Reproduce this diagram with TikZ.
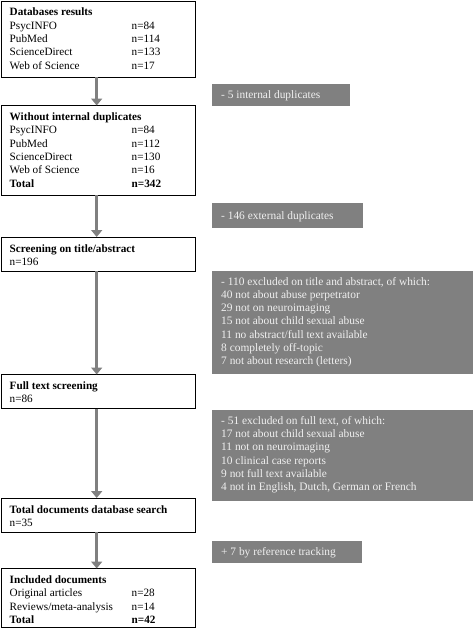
\documentclass[tikz,border=0pt]{standalone}
\usepackage{fontspec}
\setmainfont{Liberation Serif}
\usetikzlibrary{arrows.meta}
\definecolor{boxgray}{RGB}{128,128,128}
\definecolor{arrgray}{RGB}{128,128,128}
\definecolor{lighttext}{RGB}{240,240,240}
\begin{document}
\begin{tikzpicture}[x=1pt,y=-1pt,
  wbox/.style={draw=black, line width=1pt, anchor=north west, inner sep=0pt, outer sep=0pt, minimum width=194pt},
  gbox/.style={fill=boxgray, anchor=north west, inner sep=0pt, outer sep=0pt},
  txt/.style={anchor=base west, inner sep=0pt, font=\fontsize{11.2}{13.33}\selectfont},
  gtxt/.style={txt, text=lighttext, font=\fontsize{11.4}{13.33}\selectfont},
  arr/.style={draw=arrgray, line width=3pt, -{Triangle[width=11pt,length=7pt]}}]
\useasboundingbox (0,0) rectangle (473,629);

% white boxes
\node[wbox, minimum height=76pt]   (b1) at (1,1) {};
\node[wbox, minimum height=89.5pt] (b2) at (1,105.5) {};
\node[wbox, minimum height=34pt]   (b3) at (1,237) {};
\node[wbox, minimum height=34pt]   (b4) at (1,374.5) {};
\node[wbox, minimum height=34pt]   (b5) at (1,498) {};
\node[wbox, minimum height=59pt]   (b6) at (1,568.5) {};

\node[txt] (t1) at (9.5,16) {\begin{tabular}[t]{@{}p{122pt}@{}l@{}}
\multicolumn{2}{@{}l@{}}{\textbf{Databases results}}\\
PsycINFO & n=84\\
PubMed & n=114\\
ScienceDirect & n=133\\
Web of Science & n=17
\end{tabular}};

\node[txt] (t2) at (9.5,120.5) {\begin{tabular}[t]{@{}p{122pt}@{}l@{}}
\multicolumn{2}{@{}l@{}}{\textbf{Without internal duplicates}}\\
PsycINFO & n=84\\
PubMed & n=112\\
ScienceDirect & n=130\\
Web of Science & n=16\\
\textbf{Total} & \textbf{n=342}
\end{tabular}};

\node[txt] (t3) at (9.5,252) {\begin{tabular}[t]{@{}l@{}}
\textbf{Screening on title/abstract}\\
n=196
\end{tabular}};

\node[txt] (t4) at (9.5,389.5) {\begin{tabular}[t]{@{}l@{}}
\textbf{Full text screening}\\
n=86
\end{tabular}};

\node[txt] (t5) at (9.5,513) {\begin{tabular}[t]{@{}l@{}}
\textbf{Total documents database search}\\
n=35
\end{tabular}};

\node[txt] (t6) at (9.5,583.5) {\begin{tabular}[t]{@{}p{122pt}@{}l@{}}
\multicolumn{2}{@{}l@{}}{\textbf{Included documents}}\\
Original articles & n=28\\
Reviews/meta-analysis & n=14\\
\textbf{Total} & \textbf{n=42}
\end{tabular}};

% gray boxes
\node[gbox, minimum width=138pt, minimum height=22.5pt] (g1) at (212,83.5) {};
\node[gtxt] (s1) at (221,98.5) {- 5 internal duplicates};

\node[gbox, minimum width=151pt, minimum height=25pt] (g2) at (212,203) {};
\node[gtxt] (s2) at (221,219.5) {- 146 external duplicates};

\node[gbox, minimum width=261pt, minimum height=102.5pt] (g3) at (212,271) {};
\node[gtxt] (s3) at (221,285) {\begin{tabular}[t]{@{}l@{}}
- 110 excluded on title and abstract, of which:\\
40 not about abuse perpetrator\\
29 not on neuroimaging\\
15 not about child sexual abuse\\
11 no abstract/full text available\\
8 completely off-topic\\
7 not about research (letters)
\end{tabular}};

\node[gbox, minimum width=261pt, minimum height=91pt] (g4) at (212,409.5) {};
\node[gtxt] (s4) at (221,424.3) {\begin{tabular}[t]{@{}l@{}}
- 51 excluded on full text, of which:\\
17 not about child sexual abuse\\
11 not on neuroimaging\\
10 clinical case reports\\
9 not full text available\\
4 not in English, Dutch, German or French
\end{tabular}};

\node[gbox, minimum width=150pt, minimum height=22.5pt] (g5) at (212,540.5) {};
\node[gtxt] (s5) at (221,555.5) {+ 7 by reference tracking};

% arrows
\coordinate (ax) at (96.7,0);
\draw[arr] (b1.south -| ax) -- (b2.north -| ax);
\draw[arr] (b2.south -| ax) -- (b3.north -| ax);
\draw[arr] (b3.south -| ax) -- (b4.north -| ax);
\draw[arr] (b4.south -| ax) -- (b5.north -| ax);
\draw[arr] (b5.south -| ax) -- (b6.north -| ax);
\end{tikzpicture}
\end{document}
